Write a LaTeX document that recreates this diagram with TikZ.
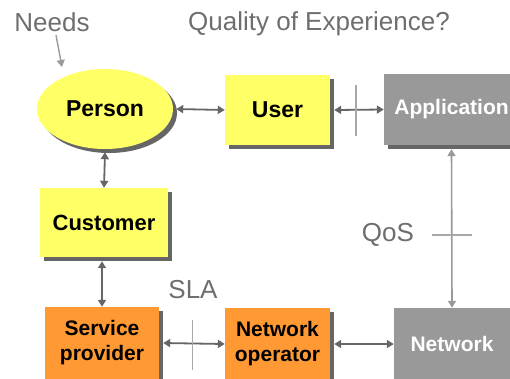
\documentclass[tikz,border=0pt]{standalone}
\usepackage{fontspec}
\setmainfont{Liberation Sans}
\usetikzlibrary{arrows.meta,shadows,shapes.geometric}
\definecolor{boxyellow}{HTML}{FFFF66}
\definecolor{boxorange}{HTML}{FF9933}
\definecolor{boxgray}{HTML}{999999}
\definecolor{shadowgray}{HTML}{666666}
\definecolor{textgray}{HTML}{6E6E6E}
\definecolor{ticklight}{HTML}{A8A8A8}

\begin{document}
\begin{tikzpicture}[x=1pt, y=-1pt,
block/.style = {rectangle, inner sep=0pt, align=center,
  font=\fontsize{21}{25}\selectfont\bfseries,
  drop shadow={shadow xshift=4pt, shadow yshift=-4pt, fill=shadowgray, opacity=1}},
link/.style = {draw=shadowgray, line width=1.8pt,
  {Triangle[length=7pt,width=8pt]}-{Triangle[length=7pt,width=8pt]}},
qos/.style = {draw=boxgray, line width=1.6pt,
  {Triangle[length=7pt,width=8pt]}-{Triangle[length=7pt,width=8pt]}},
tick/.style = {draw=ticklight, line width=1.4pt},
note/.style = {text=textgray, font=\fontsize{26}{30}\selectfont}]
\clip (0,0) rectangle (510,378);

% people side
\node[block, ellipse, fill=boxyellow, minimum width=136pt, minimum height=80pt,
  font=\fontsize{23}{26}\selectfont\bfseries] at (105,109) (person) {Person};
\node[block, fill=boxyellow, minimum width=105pt, minimum height=70pt,
  font=\fontsize{23}{26}\selectfont\bfseries] at (277.5,110) (user) {User};
\node[block, fill=boxyellow, minimum width=128pt, minimum height=69pt,
  font=\fontsize{22}{26}\selectfont\bfseries] at (104,222.5) (cust) {Customer};

% technical side
\node[block, fill=boxgray, text=white, minimum width=135pt, minimum height=71pt] at (451.5,109.5) (app) {Application};
\node[block, fill=boxgray, text=white, minimum width=116pt, minimum height=72pt] at (452,344) (net) {Network};
\node[block, fill=boxorange, minimum width=114pt, minimum height=72pt] at (102,343) (sp) {Service\\provider};
\node[block, fill=boxorange, minimum width=105pt, minimum height=72pt] at (277.5,344) (netop) {Network\\operator};

% labels
\node[note] at (52,22) (needs) {Needs};
\node[note] at (319,24) (qoe) {Quality of Experience?};
\node[note] at (193,290) (sla) {SLA};
\node[note] at (388,235) (qoslabel) {QoS};

% connectors
\draw[draw=boxgray, line width=1.4pt, -{Triangle[length=7pt,width=8pt]}]
  ([xshift=4pt]needs.south) -- (62,67);
\draw[link] ([xshift=3pt]person.east) -- (user.west);
\draw[link] ([xshift=4pt]user.east) -- coordinate[pos=0.44] (t1) (app.west);
\draw[link] ([yshift=-3pt]person.south) -- (cust.north);
\draw[link] ([xshift=-2pt,yshift=-4pt]cust.south) -- (sp.north);
\draw[link] ([xshift=4pt]sp.east) -- coordinate[pos=0.48] (t2) (netop.west);
\draw[link] ([xshift=4pt]netop.east) -- (net.west);
\draw[qos] ([yshift=-4pt]app.south) -- coordinate[pos=0.54] (t3) (net.north);

% crossing marks
\draw[tick] (t1) ++(0,-25) -- ++(0,51);
\draw[tick] (t2) ++(0,-23) -- ++(0,50);
\draw[tick] (t3) ++(-20,0) -- ++(40,0);
\end{tikzpicture}
\end{document}
